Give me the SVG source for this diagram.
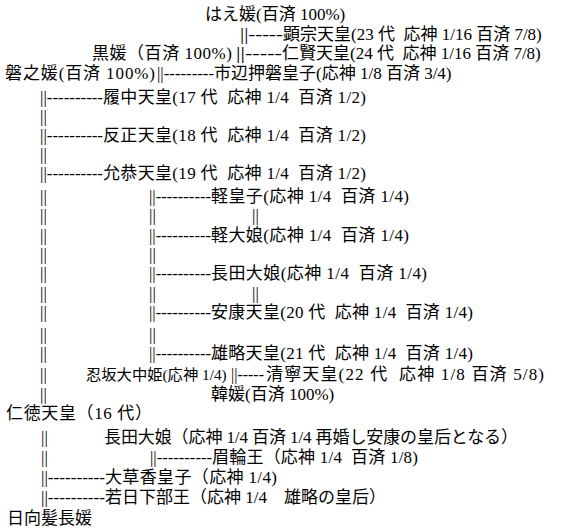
<svg xmlns="http://www.w3.org/2000/svg" width="580" height="531" viewBox="0 0 580 531">
<style>
text { font-family: "Liberation Serif", "Noto Sans CJK JP", serif; font-size: 17px; fill: #000; white-space: pre; }
.c { font-family: "Liberation Serif", serif; }
</style>
<rect width="580" height="531" fill="#fff"/>
<g id="connectors">
  <text class="c" x="240" y="40" textLength="43" lengthAdjust="spacingAndGlyphs">||-----</text>
  <text class="c" x="236" y="59" textLength="46" lengthAdjust="spacingAndGlyphs">||-----</text>
  <text class="c" x="157" y="79" textLength="57" lengthAdjust="spacingAndGlyphs">||---------</text>
  <text class="c" x="40" y="103" textLength="63" lengthAdjust="spacingAndGlyphs">||----------</text>
  <text class="c" x="40" y="122">||</text>
  <text class="c" x="40" y="141" textLength="63" lengthAdjust="spacingAndGlyphs">||----------</text>
  <text class="c" x="40" y="160">||</text>
  <text class="c" x="40" y="179" textLength="63" lengthAdjust="spacingAndGlyphs">||----------</text>
  <text class="c" x="40" y="202">||</text>
  <text class="c" x="149" y="202" textLength="62" lengthAdjust="spacingAndGlyphs">||----------</text>
  <text class="c" x="40" y="221">||</text>
  <text class="c" x="149" y="221">||</text>
  <text class="c" x="252" y="221">||</text>
  <text class="c" x="40" y="241">||</text>
  <text class="c" x="149" y="241" textLength="62" lengthAdjust="spacingAndGlyphs">||----------</text>
  <text class="c" x="40" y="260">||</text>
  <text class="c" x="149" y="260">||</text>
  <text class="c" x="40" y="279">||</text>
  <text class="c" x="149" y="279" textLength="62" lengthAdjust="spacingAndGlyphs">||----------</text>
  <text class="c" x="40" y="299">||</text>
  <text class="c" x="149" y="299">||</text>
  <text class="c" x="252" y="299">||</text>
  <text class="c" x="40" y="318">||</text>
  <text class="c" x="149" y="318" textLength="62" lengthAdjust="spacingAndGlyphs">||----------</text>
  <text class="c" x="40" y="340">||</text>
  <text class="c" x="149" y="340">||</text>
  <text class="c" x="40" y="359">||</text>
  <text class="c" x="149" y="359" textLength="62" lengthAdjust="spacingAndGlyphs">||----------</text>
  <text class="c" x="40" y="380">||</text>
  <text class="c" x="231" y="380" textLength="33" lengthAdjust="spacingAndGlyphs">||-----</text>
  <text class="c" x="40" y="400">||</text>
  <text class="c" x="41" y="443">||</text>
  <text class="c" x="41" y="463">||</text>
  <text class="c" x="150" y="463" textLength="62" lengthAdjust="spacingAndGlyphs">||----------</text>
  <text class="c" x="41" y="483" textLength="64" lengthAdjust="spacingAndGlyphs">||----------</text>
  <text class="c" x="41" y="503" textLength="64" lengthAdjust="spacingAndGlyphs">||----------</text>
</g>
<g id="haehime"><text x="205" y="20">はえ媛(百済 100%)</text></g>
<g id="kenzo"><text x="283" y="40">顕宗天皇(23 代  応神 1/16 百済 7/8)</text></g>
<g id="kurohime"><text x="92" y="59" textLength="140" lengthAdjust="spacing">黒媛（百済 100%)</text></g>
<g id="ninken"><text x="282" y="59">仁賢天皇(24 代  応神 1/16 百済 7/8)</text></g>
<g id="iwanohime"><text x="5" y="79" textLength="150" lengthAdjust="spacing">磐之媛(百済 100%)</text></g>
<g id="ichinobe"><text x="214" y="79">市辺押磐皇子(応神 1/8 百済 3/4)</text></g>
<g id="richu"><text x="103" y="103" textLength="263" lengthAdjust="spacing">履中天皇(17 代  応神 1/4  百済 1/2)</text></g>
<g id="hanzei"><text x="103" y="141" textLength="263" lengthAdjust="spacing">反正天皇(18 代  応神 1/4  百済 1/2)</text></g>
<g id="ingyo"><text x="103" y="179" textLength="263" lengthAdjust="spacing">允恭天皇(19 代  応神 1/4  百済 1/2)</text></g>
<g id="karunomiko"><text x="211" y="202" textLength="198" lengthAdjust="spacing">軽皇子(応神 1/4  百済 1/4)</text></g>
<g id="karunooiratsume"><text x="211" y="241" textLength="198" lengthAdjust="spacing">軽大娘(応神 1/4  百済 1/4)</text></g>
<g id="nagata1"><text x="211" y="279" textLength="216" lengthAdjust="spacing">長田大娘(応神 1/4  百済 1/4)</text></g>
<g id="anko"><text x="211" y="318" textLength="262" lengthAdjust="spacing">安康天皇(20 代  応神 1/4  百済 1/4)</text></g>
<g id="yuryaku"><text x="211" y="359" textLength="262" lengthAdjust="spacing">雄略天皇(21 代  応神 1/4  百済 1/4)</text></g>
<g id="oshisaka"><text x="86" y="380" style="font-size:15.3px">忍坂大中姫(応神 1/4)</text></g>
<g id="seinei"><text x="266" y="380" textLength="278" lengthAdjust="spacing">清寧天皇(22 代  応神 1/8 百済 5/8)</text></g>
<g id="karahime"><text x="211" y="400">韓媛(百済 100%)</text></g>
<g id="nintoku"><text x="6" y="419" textLength="146" lengthAdjust="spacing">仁徳天皇（16 代）</text></g>
<g id="nagata2"><text x="104" y="443" textLength="414" lengthAdjust="spacing">長田大娘（応神 1/4 百済 1/4 再婚し安康の皇后となる）</text></g>
<g id="mayowa"><text x="212" y="463" textLength="206" lengthAdjust="spacing">眉輪王（応神 1/4  百済 1/8)</text></g>
<g id="okusaka"><text x="105" y="483" textLength="172" lengthAdjust="spacing">大草香皇子（応神 1/4)</text></g>
<g id="wakakusaka"><text x="105" y="503">若日下部王（応神 1/4　雄略の皇后）</text></g>
<g id="hinatanokaminaga"><text x="7" y="524">日向髪長媛</text></g>
</svg>
